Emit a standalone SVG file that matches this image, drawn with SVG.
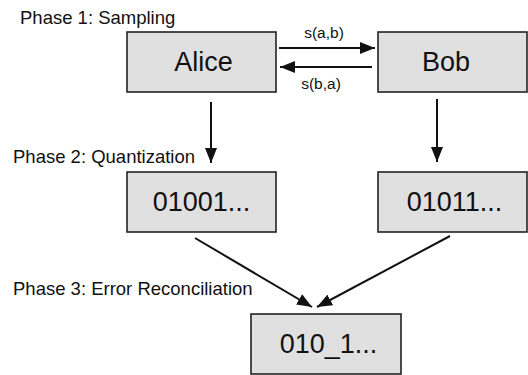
<svg xmlns="http://www.w3.org/2000/svg" width="528" height="375" viewBox="0 0 528 375">
<style>
.box{fill:#e0e0e0;stroke:#222;stroke-width:1.6}
.big{font-family:"Liberation Sans",Arial,sans-serif;font-size:27px;fill:#111}
.phase{font-family:"Liberation Sans",Arial,sans-serif;font-size:18.5px;fill:#111}
.lbl{font-family:"Liberation Sans",Arial,sans-serif;font-size:15.5px;fill:#111}
.edge{stroke:#111;stroke-width:2;fill:none;marker-end:url(#ah)}
</style>
<defs>
<marker id="ah" markerUnits="userSpaceOnUse" markerWidth="16" markerHeight="12" refX="15" refY="6" orient="auto">
<path d="M0,0 L15,6 L0,12 Z" fill="#111"/>
</marker>
</defs>
<text class="phase" x="20" y="24">Phase 1: Sampling</text>
<text class="phase" x="13" y="163">Phase 2: Quantization</text>
<text class="phase" x="13" y="295">Phase 3: Error Reconciliation</text>
<g id="alice"><rect class="box" x="127" y="32" width="149" height="60"/><text class="big" x="203.5" y="71" text-anchor="middle">Alice</text></g>
<g id="bob"><rect class="box" x="378" y="32" width="149" height="60"/><text class="big" x="446" y="71" text-anchor="middle">Bob</text></g>
<g id="qa"><rect class="box" x="127" y="172" width="149" height="60"/><text class="big" x="201.5" y="211" text-anchor="middle">01001...</text></g>
<g id="qb"><rect class="box" x="378" y="172" width="149" height="60"/><text class="big" x="454.5" y="211" text-anchor="middle">01011...</text></g>
<g id="rec"><rect class="box" x="251" y="314" width="150" height="60"/><text class="big" x="328.5" y="353" text-anchor="middle">010_1...</text></g>
<g id="connectors">
<path class="edge" d="M279,48 L375,48"/>
<text class="lbl" x="324" y="37.5" text-anchor="middle">s(a,b)</text>
<path class="edge" d="M372,67 L280,67"/>
<text class="lbl" x="321" y="88.5" text-anchor="middle">s(b,a)</text>
<path class="edge" d="M211,102 L211,163"/>
<path class="edge" d="M437,99 L437,162"/>
<path class="edge" d="M195,238 L312,307"/>
<path class="edge" d="M450,236 L317,307"/>
</g>
</svg>
